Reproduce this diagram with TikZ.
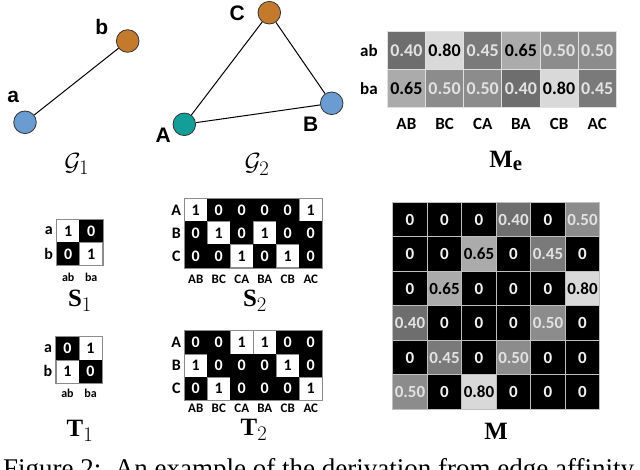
\documentclass[tikz,border=0pt]{standalone}
\usepackage{fontspec}
\setmainfont{Liberation Serif}
\newfontfamily\arialf{Liberation Sans}
\newfontfamily\carl{Carlito}
\definecolor{g40}{HTML}{6E6E6E}
\definecolor{g45}{HTML}{7A7A7A}
\definecolor{g50}{HTML}{8C8C8C}
\definecolor{g65}{HTML}{ABABAB}
\definecolor{g80}{HTML}{D9D9D9}
\definecolor{lt}{HTML}{E2E2E2}
\definecolor{zt}{HTML}{F2F2F2}
\definecolor{nblue}{HTML}{6A9BD1}
\definecolor{norange}{HTML}{C47A2C}
\definecolor{nteal}{HTML}{139E9A}
\tikzset{
  gnode/.style={circle, draw=black!80, line width=0.8pt, minimum size=22.6pt, inner sep=0},
  glab/.style={font=\arialf\bfseries\fontsize{21}{21}\selectfont, inner sep=0},
  gedge/.style={line width=1pt, black},
  mlab/.style={font=\fontsize{24.88}{25}\selectfont, inner sep=0},
  mecell/.style={minimum width=38.17pt, minimum height=38pt, inner sep=0, draw=white!88!black, line width=0.8pt, font=\carl\bfseries\fontsize{18}{18}\selectfont},
  mcell/.style={minimum width=34.5pt, minimum height=34.5pt, inner sep=0, draw=white!75!black, line width=0.8pt, font=\carl\bfseries\fontsize{17}{17}\selectfont},
  scell/.style={minimum width=23pt, minimum height=23.1pt, inner sep=0, line width=0.5pt, font=\carl\bfseries\fontsize{16}{16}\selectfont},
  s0/.style={fill=black, draw=black, text=white},
  s1/.style={fill=white, draw=black!45, text=black},
  rowlab/.style={inner sep=0, font=\carl\bfseries\fontsize{16}{16}\selectfont},
  collab/.style={inner sep=0, font=\carl\bfseries\fontsize{#1}{#1}\selectfont},
  merow/.style={inner sep=0, font=\carl\bfseries\fontsize{17}{17}\selectfont},
  mecol/.style={inner sep=0, font=\carl\bfseries\fontsize{17}{17}\selectfont},
  bord/.style={draw=black!45, line width=0.6pt}
}
% #1 name, #2 left, #3 top, #4 rows, #5 row labels, #6 col labels, #7 col label y, #8 col label size
\newcommand\drawbinmat[8]{%
  \foreach \rowdata [count=\ri] in {#4}{%
    \foreach \v [count=\ci] in \rowdata {%
      \node[scell, s\v] (#1-\ri-\ci) at ({#2+23*(\ci-0.5)},{#3+23.1*(\ri-0.5)}) {\v};
    }%
  }%
  \foreach \l [count=\ri] in {#5}{%
    \node[rowlab] (#1-rl-\ri) at ({#2-8},{#3+23.1*(\ri-0.5)}) {\l};
  }%
  \foreach \l [count=\ci] in {#6}{%
    \node[collab=#8] (#1-cl-\ci) at ({#2+23*(\ci-0.5)},#7) {\l};
  }%
}
\begin{document}
\begin{tikzpicture}[x=1pt, y=-1pt]
\fill[white] (0,0) rectangle (640,470);
\useasboundingbox (0,0) rectangle (640,470);

% ---- G1 ----
\node[gnode, fill=nblue] (a) at (25,122.3) {};
\node[gnode, fill=norange] (b) at (127.7,41) {};
\draw[gedge] (a) -- (b);
\node[glab] (la) at (13.3,96.7) {a};
\node[glab] (lb) at (101.7,26.7) {b};
\node[mlab] (g1) at (76.7,164) {$\mathcal{G}_1$};

% ---- G2 ----
\node[gnode, fill=nteal] (A) at (184.3,124.3) {};
\node[gnode, fill=nblue] (B) at (331.7,103.3) {};
\node[gnode, fill=norange] (C) at (269.3,12.7) {};
\draw[gedge] (A) -- (C);
\draw[gedge] (C) -- (B);
\draw[gedge] (A) -- (B);
\node[glab] (lA) at (163.3,135) {A};
\node[glab] (lB) at (310.7,124) {B};
\node[glab] (lC) at (237.3,13.3) {C};
\node[mlab] (g2) at (257,164.5) {$\mathcal{G}_2$};

% ---- Me ----
\foreach \rowdata [count=\ri] in {{0.40/g40/lt,0.80/g80/black,0.45/g45/lt,0.65/g65/black,0.50/g50/lt,0.50/g50/lt},{0.65/g65/black,0.50/g50/lt,0.50/g50/lt,0.40/g40/lt,0.80/g80/black,0.45/g45/lt}}{
  \foreach \v/\f/\t [count=\ci] in \rowdata {
    \node[mecell, fill=\f, text=\t] (me-\ri-\ci) at ({387.3+38.17*(\ci-0.5)},{31.7+38*(\ri-0.5)}) {\v};
  }
}
\node[merow] (me-rl-1) at (369,50.7) {ab};
\node[merow] (me-rl-2) at (369,88.7) {ba};
\foreach \l [count=\ci] in {AB,BC,CA,BA,CB,AC}{
  \node[mecol] (me-cl-\ci) at ({387.3+38.17*(\ci-0.5)},124) {\l};
}
\node[mlab] (lme) at (506,161) {$\mathbf{M_e}$};

% ---- S1, T1 ----
\drawbinmat{s1m}{56.7}{219.3}{{1,0},{0,1}}{a,b}{ab,ba}{277.3}{12}
\draw[bord] (s1m-1-1.north west) rectangle (s1m-2-2.south east);
\node[mlab] (ls1) at (80,301) {$\mathbf{S}_1$};
\drawbinmat{t1m}{56}{336.7}{{0,1},{1,0}}{a,b}{ab,ba}{393.3}{12}
\draw[bord] (t1m-1-1.north west) rectangle (t1m-2-2.south east);
\node[mlab] (lt1) at (80,431) {$\mathbf{T}_1$};

% ---- S2, T2 ----
\drawbinmat{s2m}{184.3}{198.3}{{1,0,0,0,0,1},{0,1,0,1,0,0},{0,0,1,0,1,0}}{A,B,C}{AB,BC,CA,BA,CB,AC}{279}{13}
\draw[bord] (s2m-1-1.north west) rectangle (s2m-3-6.south east);
\node[mlab] (ls2) at (255,301) {$\mathbf{S}_2$};
\drawbinmat{t2m}{184.3}{330.7}{{0,0,1,1,0,0},{1,0,0,0,1,0},{0,1,0,0,0,1}}{A,B,C}{AB,BC,CA,BA,CB,AC}{408.3}{13}
\draw[bord] (t2m-1-1.north west) rectangle (t2m-3-6.south east);
\node[mlab] (lt2) at (254,430) {$\mathbf{T}_2$};

% ---- M ----
\foreach \rowdata [count=\ri] in {
 {0/black/zt,0/black/zt,0/black/zt,0.40/g40/lt,0/black/zt,0.50/g50/lt},
 {0/black/zt,0/black/zt,0.65/g65/black,0/black/zt,0.45/g45/lt,0/black/zt},
 {0/black/zt,0.65/g65/black,0/black/zt,0/black/zt,0/black/zt,0.80/g80/black},
 {0.40/g40/lt,0/black/zt,0/black/zt,0/black/zt,0.50/g50/lt,0/black/zt},
 {0/black/zt,0.45/g45/lt,0/black/zt,0.50/g50/lt,0/black/zt,0/black/zt},
 {0.50/g50/lt,0/black/zt,0.80/g80/black,0/black/zt,0/black/zt,0/black/zt}}{
  \foreach \v/\f/\t [count=\ci] in \rowdata {
    \node[mcell, fill=\f, text=\t] (m-\ri-\ci) at ({392.7+34.5*(\ci-0.5)},{202.3+34.5*(\ri-0.5)}) {\v};
  }
}
\node[mlab] (lm) at (496,431) {$\mathbf{M}$};

% ---- caption (cut off by the lower edge, as in the reference) ----
\node[anchor=base west, inner sep=0, font=\fontsize{27}{27}\selectfont] (cap) at (3,477) {Figure 2:\ \ An example of the derivation from edge affinity};
\end{tikzpicture}
\end{document}
